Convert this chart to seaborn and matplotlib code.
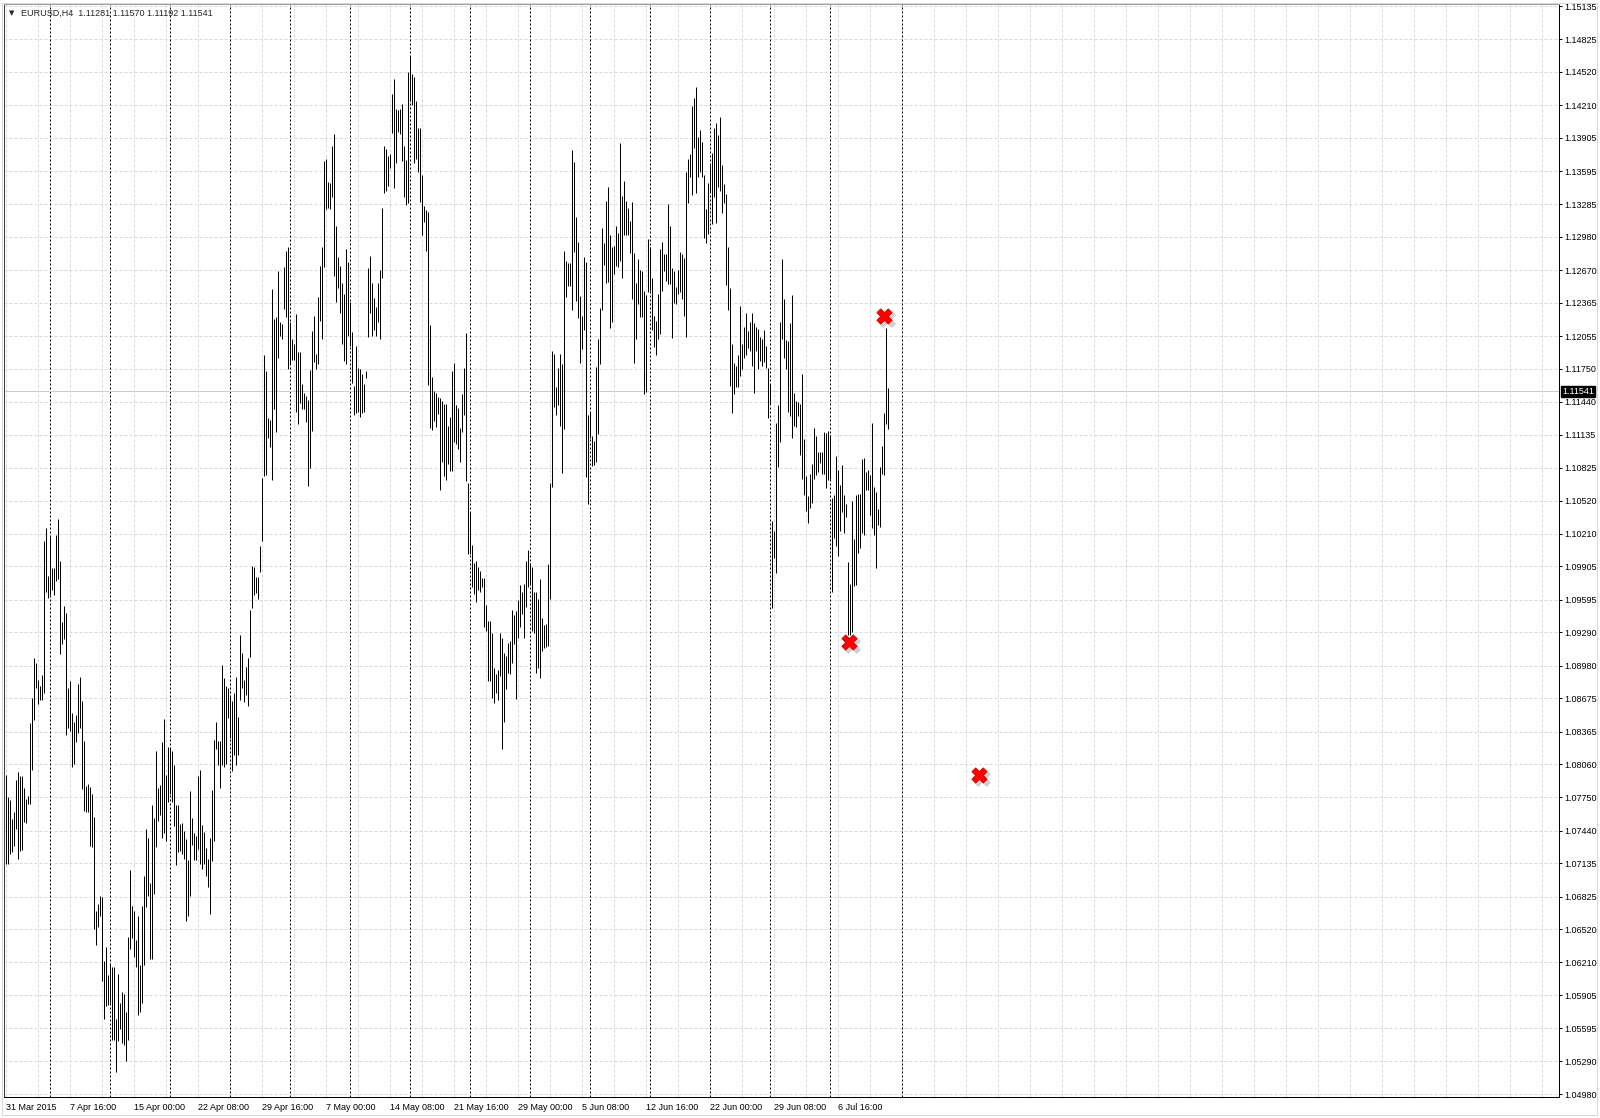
import numpy as np
import matplotlib
matplotlib.use("Agg")
import matplotlib.pyplot as plt
import matplotlib.transforms as mtransforms
from matplotlib.patches import Rectangle
import seaborn as sns


# ─────────────────────────────────────────────
# DATA  (EURUSD H4)
# ─────────────────────────────────────────────

symbol = "EURUSD,H4"
last_ohlc = [1.11281, 1.11570, 1.11192, 1.11541]
last_price = 1.11541

# bar highs / lows, one per H4 bar from 31 Mar 2015 00:00
highs = [
    1.0796, 1.0775, 1.0773, 1.0755, 1.0761, 1.0791, 1.0799, 1.0795, 1.0795, 1.0784,
    1.0774, 1.0776, 1.0844, 1.0868, 1.0905, 1.0900, 1.0885, 1.0879, 1.0889, 1.1014,
    1.1026, 1.0982, 1.1018, 1.0989, 1.0989, 1.1020, 1.1035, 1.0996, 1.0939, 1.0954,
    1.0947, 1.0877, 1.0884, 1.0854, 1.0845, 1.0852, 1.0881, 1.0887, 1.0865, 1.0828,
    1.0786, 1.0788, 1.0785, 1.0778, 1.0757, 1.0669, 1.0676, 1.0683, 1.0682, 1.0622,
    1.0635, 1.0609, 1.0620, 1.0617, 1.0617, 1.0568, 1.0610, 1.0583, 1.0593, 1.0592,
    1.0575, 1.0645, 1.0707, 1.0674, 1.0669, 1.0642, 1.0664, 1.0619, 1.0674, 1.0702,
    1.0746, 1.0737, 1.0695, 1.0768, 1.0756, 1.0818, 1.0784, 1.0787, 1.0827, 1.0848,
    1.0796, 1.0822, 1.0822, 1.0818, 1.0805, 1.0768, 1.0768, 1.0750, 1.0751, 1.0744,
    1.0736, 1.0717, 1.0781, 1.0756, 1.0742, 1.0739, 1.0795, 1.0801, 1.0749, 1.0743,
    1.0728, 1.0718, 1.0737, 1.0782, 1.0829, 1.0845, 1.0828, 1.0828, 1.0899, 1.0886,
    1.0879, 1.0877, 1.0869, 1.0865, 1.0872, 1.0887, 1.0850, 1.0927, 1.0910, 1.0885,
    1.0897, 1.0905, 1.0950, 1.0991, 1.0990, 1.0981, 1.0981, 1.1010, 1.1073, 1.1188,
    1.1173, 1.1129, 1.1127, 1.1249, 1.1221, 1.1223, 1.1266, 1.1219, 1.1217, 1.1270,
    1.1285, 1.1289, 1.1219, 1.1203, 1.1198, 1.1226, 1.1191, 1.1191, 1.1161, 1.1152,
    1.1150, 1.1146, 1.1174, 1.1210, 1.1224, 1.1189, 1.1242, 1.1271, 1.1289, 1.1369,
    1.1371, 1.1349, 1.1348, 1.1383, 1.1394, 1.1308, 1.1279, 1.1271, 1.1255, 1.1245,
    1.1287, 1.1275, 1.1237, 1.1209, 1.1159, 1.1196, 1.1176, 1.1175, 1.1170, 1.1161,
    1.1173, 1.1269, 1.1280, 1.1255, 1.1241, 1.1233, 1.1255, 1.1267, 1.1325, 1.1383,
    1.1380, 1.1374, 1.1375, 1.1431, 1.1445, 1.1417, 1.1416, 1.1417, 1.1422, 1.1383,
    1.1370, 1.1452, 1.1467, 1.1450, 1.1447, 1.1425, 1.1400, 1.1400, 1.1356, 1.1327,
    1.1323, 1.1321, 1.1216, 1.1167, 1.1154, 1.1152, 1.1149, 1.1148, 1.1145, 1.1142,
    1.1142, 1.1122, 1.1130, 1.1173, 1.1180, 1.1141, 1.1138, 1.1120, 1.1151, 1.1176,
    1.1208, 1.1068, 1.1041, 1.1011, 1.0994, 1.0996, 1.0990, 1.0986, 1.0980, 1.0980,
    1.0955, 1.0940, 1.0940, 1.0928, 1.0896, 1.0890, 1.0894, 1.0928, 1.0924, 1.0910,
    1.0907, 1.0919, 1.0921, 1.0950, 1.0945, 1.0949, 1.0959, 1.0973, 1.0967, 1.0974,
    1.0996, 1.1006, 1.0994, 1.0990, 1.0967, 1.0967, 1.0960, 1.0979, 1.0942, 1.0936,
    1.0937, 1.0993, 1.1068, 1.1192, 1.1189, 1.1158, 1.1176, 1.1189, 1.1179, 1.1285,
    1.1276, 1.1274, 1.1274, 1.1379, 1.1368, 1.1317, 1.1293, 1.1243, 1.1224, 1.1279,
    1.1275, 1.1132, 1.1135, 1.1112, 1.1108, 1.1177, 1.1203, 1.1232, 1.1306, 1.1292,
    1.1332, 1.1345, 1.1300, 1.1289, 1.1290, 1.1308, 1.1302, 1.1386, 1.1336, 1.1350,
    1.1332, 1.1325, 1.1313, 1.1331, 1.1283, 1.1255, 1.1277, 1.1267, 1.1266, 1.1248,
    1.1244, 1.1296, 1.1289, 1.1260, 1.1224, 1.1220, 1.1245, 1.1287, 1.1293, 1.1282,
    1.1282, 1.1329, 1.1308, 1.1269, 1.1266, 1.1251, 1.1267, 1.1284, 1.1282, 1.1278,
    1.1359, 1.1371, 1.1375, 1.1420, 1.1428, 1.1438, 1.1391, 1.1398, 1.1387, 1.1356,
    1.1324, 1.1348, 1.1365, 1.1376, 1.1400, 1.1404, 1.1393, 1.1410, 1.1365, 1.1347,
    1.1338, 1.1289, 1.1250, 1.1198, 1.1180, 1.1178, 1.1188, 1.1234, 1.1198, 1.1214,
    1.1227, 1.1210, 1.1219, 1.1227, 1.1218, 1.1214, 1.1212, 1.1205, 1.1203, 1.1211,
    1.1196, 1.1176, 1.1161, 1.1033, 1.1024, 1.1124, 1.1141, 1.1219, 1.1277, 1.1240,
    1.1202, 1.1201, 1.1218, 1.1244, 1.1152, 1.1145, 1.1144, 1.1142, 1.1170, 1.1109,
    1.1075, 1.1056, 1.1077, 1.1086, 1.1120, 1.1112, 1.1097, 1.1097, 1.1097, 1.1116,
    1.1115, 1.1117, 1.1113, 1.1054, 1.1057, 1.1094, 1.1081, 1.1067, 1.1085, 1.1057,
    1.1049, 1.0995, 1.0974, 1.1052, 1.1016, 1.1057, 1.1058, 1.1058, 1.1091, 1.1092,
    1.1079, 1.1081, 1.1076, 1.1124, 1.1065, 1.1060, 1.1044, 1.1083, 1.1103, 1.1134,
    1.1213, 1.1157,
]

lows = [
    1.0713, 1.0713, 1.0722, 1.0724, 1.0730, 1.0746, 1.0718, 1.0725, 1.0726, 1.0752,
    1.0751, 1.0769, 1.0769, 1.0801, 1.0847, 1.0877, 1.0862, 1.0866, 1.0866, 1.0872,
    1.0967, 1.0961, 1.0964, 1.0969, 1.0964, 1.0977, 1.0979, 1.0909, 1.0918, 1.0923,
    1.0833, 1.0840, 1.0837, 1.0803, 1.0806, 1.0827, 1.0835, 1.0840, 1.0783, 1.0762,
    1.0761, 1.0761, 1.0730, 1.0729, 1.0652, 1.0637, 1.0654, 1.0664, 1.0604, 1.0568,
    1.0580, 1.0581, 1.0583, 1.0549, 1.0549, 1.0519, 1.0548, 1.0559, 1.0546, 1.0544,
    1.0529, 1.0549, 1.0634, 1.0644, 1.0626, 1.0617, 1.0572, 1.0575, 1.0583, 1.0619,
    1.0673, 1.0683, 1.0624, 1.0624, 1.0685, 1.0729, 1.0753, 1.0759, 1.0737, 1.0742,
    1.0734, 1.0771, 1.0778, 1.0771, 1.0748, 1.0712, 1.0724, 1.0725, 1.0722, 1.0718,
    1.0660, 1.0664, 1.0683, 1.0731, 1.0717, 1.0717, 1.0727, 1.0713, 1.0708, 1.0713,
    1.0702, 1.0691, 1.0666, 1.0716, 1.0734, 1.0820, 1.0805, 1.0784, 1.0805, 1.0803,
    1.0806, 1.0849, 1.0830, 1.0800, 1.0815, 1.0805, 1.0815, 1.0866, 1.0877, 1.0864,
    1.0871, 1.0860, 1.0906, 1.0952, 1.0964, 1.0966, 1.0960, 1.0985, 1.1014, 1.1075,
    1.1076, 1.1110, 1.1102, 1.1071, 1.1137, 1.1116, 1.1185, 1.1206, 1.1203, 1.1231,
    1.1223, 1.1175, 1.1179, 1.1183, 1.1183, 1.1135, 1.1123, 1.1143, 1.1137, 1.1137,
    1.1125, 1.1066, 1.1082, 1.1117, 1.1181, 1.1175, 1.1179, 1.1220, 1.1203, 1.1270,
    1.1324, 1.1325, 1.1324, 1.1335, 1.1262, 1.1237, 1.1250, 1.1227, 1.1198, 1.1182,
    1.1179, 1.1206, 1.1196, 1.1162, 1.1132, 1.1134, 1.1135, 1.1130, 1.1134, 1.1135,
    1.1166, 1.1205, 1.1227, 1.1206, 1.1211, 1.1206, 1.1219, 1.1203, 1.1260, 1.1339,
    1.1341, 1.1346, 1.1362, 1.1395, 1.1344, 1.1367, 1.1396, 1.1394, 1.1369, 1.1335,
    1.1328, 1.1330, 1.1425, 1.1421, 1.1367, 1.1371, 1.1359, 1.1331, 1.1300, 1.1312,
    1.1285, 1.1160, 1.1120, 1.1118, 1.1126, 1.1121, 1.1133, 1.1062, 1.1088, 1.1075,
    1.1071, 1.1086, 1.1080, 1.1080, 1.1107, 1.1105, 1.1100, 1.1088, 1.1116, 1.1132,
    1.1070, 1.1002, 1.1002, 1.0971, 1.0965, 1.0957, 1.0969, 1.0967, 1.0971, 1.0934,
    1.0930, 1.0884, 1.0884, 1.0868, 1.0863, 1.0872, 1.0866, 1.0888, 1.0820, 1.0845,
    1.0876, 1.0891, 1.0890, 1.0900, 1.0918, 1.0867, 1.0924, 1.0934, 1.0946, 1.0924,
    1.0953, 1.0971, 1.0973, 1.0930, 1.0928, 1.0891, 1.0896, 1.0886, 1.0912, 1.0914,
    1.0915, 1.0916, 1.0960, 1.1065, 1.1139, 1.1132, 1.1141, 1.1122, 1.1078, 1.1119,
    1.1242, 1.1252, 1.1252, 1.1230, 1.1284, 1.1238, 1.1222, 1.1180, 1.1193, 1.1211,
    1.1074, 1.1049, 1.1110, 1.1084, 1.1085, 1.1088, 1.1114, 1.1179, 1.1230, 1.1272,
    1.1255, 1.1256, 1.1213, 1.1219, 1.1263, 1.1271, 1.1270, 1.1276, 1.1260, 1.1300,
    1.1300, 1.1300, 1.1283, 1.1240, 1.1180, 1.1203, 1.1235, 1.1223, 1.1223, 1.1151,
    1.1153, 1.1247, 1.1248, 1.1211, 1.1195, 1.1188, 1.1203, 1.1207, 1.1248, 1.1266,
    1.1257, 1.1254, 1.1254, 1.1204, 1.1236, 1.1235, 1.1245, 1.1247, 1.1240, 1.1224,
    1.1205, 1.1330, 1.1354, 1.1337, 1.1381, 1.1339, 1.1354, 1.1359, 1.1354, 1.1297,
    1.1292, 1.1301, 1.1341, 1.1310, 1.1335, 1.1311, 1.1345, 1.1341, 1.1320, 1.1330,
    1.1253, 1.1230, 1.1159, 1.1134, 1.1151, 1.1158, 1.1158, 1.1168, 1.1175, 1.1185,
    1.1188, 1.1194, 1.1192, 1.1178, 1.1152, 1.1192, 1.1175, 1.1182, 1.1178, 1.1181,
    1.1176, 1.1129, 1.1142, 1.0952, 1.0998, 1.0984, 1.1083, 1.1107, 1.1203, 1.1185,
    1.1175, 1.1135, 1.1131, 1.1110, 1.1122, 1.1121, 1.1131, 1.1095, 1.1072, 1.1057,
    1.1042, 1.1031, 1.1045, 1.1050, 1.1072, 1.1076, 1.1079, 1.1087, 1.1077, 1.1077,
    1.1064, 1.1071, 1.1072, 1.0967, 1.1017, 1.1010, 1.1000, 1.1024, 1.1041, 1.1022,
    1.1037, 1.0927, 1.0927, 1.0929, 1.0972, 1.0973, 1.1003, 1.1008, 1.1022, 1.1020,
    1.1062, 1.1062, 1.1039, 1.1026, 1.1020, 1.0989, 1.1029, 1.1027, 1.1077, 1.1076,
    1.1123, 1.1119,
]

# price scale labels on the right
price_labels = [
    1.15135, 1.14825, 1.14520, 1.14210, 1.13905, 1.13595, 1.13285, 1.12980,
    1.12670, 1.12365, 1.12055, 1.11750, 1.11440, 1.11135, 1.10825, 1.10520,
    1.10210, 1.09905, 1.09595, 1.09290, 1.08980, 1.08675, 1.08365, 1.08060,
    1.07750, 1.07440, 1.07135, 1.06825, 1.06520, 1.06210, 1.05905, 1.05595,
    1.05290, 1.04980,
]

# time scale labels (bar index where each label sits)
date_labels = [
    "31 Mar 2015", "7 Apr 16:00", "15 Apr 00:00", "22 Apr 08:00", "29 Apr 16:00",
    "7 May 00:00", "14 May 08:00", "21 May 16:00", "29 May 00:00", "5 Jun 08:00",
    "12 Jun 16:00", "22 Jun 00:00", "29 Jun 08:00", "6 Jul 16:00",
]
date_label_bars = [0, 32, 64, 96, 128, 160, 192, 224, 256, 288, 320, 352, 384, 416]

# weekly period separators (bar index of Monday 00:00)
week_starts = [22, 52, 82, 112, 142, 172, 202, 232, 262, 292, 322, 352, 382, 412, 448]

# red cross arrow objects on the chart
marker_bars = [439, 421.5, 486.5]
marker_prices = [1.1224, 1.0920, 1.0796]


# ─────────────────────────────────────────────
# LAYOUT -- everything in screen pixels of a 1600x1118 window
# ─────────────────────────────────────────────
W, H = 1600, 1118
PLOT_L, PLOT_R = 4, 1559        # x pixels of plot area
PLOT_T, PLOT_B = 4, 1097        # y pixels (from top)
BAR_PX = 2                      # MT4 zoom level: 2 px per bar
PX_PER_PRICE = 1088.3 / (1.15135 - 1.04980)

GRID_COL = "#d9d9d9"
PX = 0.72  # one pixel in points at dpi 100

sns.set_style("white")
plt.rcParams["font.family"] = ["Liberation Sans", "DejaVu Sans"]
plt.rcParams["font.size"] = 6.5

fig = plt.figure(figsize=(W / 100, H / 100), dpi=100)
fig.patch.set_facecolor("white")
ax = fig.add_axes([PLOT_L / W, (H - PLOT_B) / H,
                   (PLOT_R - PLOT_L) / W, (PLOT_B - PLOT_T) / H])

# bar i is centred 1.5 px right of the plot edge, every 2 px
x_left = -0.75
x_right = x_left + (PLOT_R - PLOT_L) / BAR_PX
ax.set_xlim(x_left, x_right)
y_top = 1.15135 + (6 - PLOT_T) / PX_PER_PRICE
y_bot = 1.15135 - (PLOT_B - 6) / PX_PER_PRICE
ax.set_ylim(y_bot, y_top)

# light dashed grid
for v in price_labels:
    ax.axhline(v, color=GRID_COL, lw=PX, dashes=(3, 2), zorder=0)
for b in np.arange(0, x_right, 16):
    ax.axvline(b, color=GRID_COL, lw=PX, dashes=(3, 2), zorder=0)

# weekly separators
for w in week_starts:
    ax.axvline(w, color="black", lw=PX, dashes=(2, 2), zorder=1)

# bid line
ax.axhline(last_price, color="#cccccc", lw=PX, zorder=1)

# the price bars (high-low)
bar_idx = np.arange(len(highs))
ax.vlines(bar_idx, lows, highs, colors="black", linewidth=PX, zorder=3)

# red cross objects, with their soft grey drop shadow
shadow = ax.transData + mtransforms.ScaledTranslation(3 / 100, -3 / 100, fig.dpi_scale_trans)
ax.scatter(marker_bars, marker_prices, marker="X", s=150, color="#777777",
           alpha=0.35, linewidths=0, transform=shadow, zorder=4)
sns.scatterplot(x=marker_bars, y=marker_prices, marker="X", s=120, color="#ff0000",
                edgecolor="#d00000", linewidth=0.6, ax=ax, zorder=5, legend=False)

# axes / frame
for side in ["top", "left", "right", "bottom"]:
    ax.spines[side].set_linewidth(PX)
ax.spines["top"].set_color("#a0a0a0")
ax.spines["left"].set_color("#404040")
ax.spines["right"].set_color("black")
ax.spines["bottom"].set_color("black")

ax.yaxis.tick_right()
ax.set_yticks(price_labels)
ax.set_yticklabels([f"{v:.5f}" for v in price_labels])
ax.tick_params(axis="y", direction="out", length=2.2, width=PX, pad=1.5,
               labelsize=6.5, colors="black")

ax.set_xticks(date_label_bars)
ax.set_xticklabels(date_labels)
ax.tick_params(axis="x", direction="out", length=2.2, width=PX, pad=2,
               labelsize=6.5, colors="black")
plt.setp(ax.get_xticklabels(), ha="left")
ax.set_xlabel("")
ax.set_ylabel("")

# current price tag on the scale
tag_trans = mtransforms.blended_transform_factory(ax.transAxes, ax.transData)
ax.text(1.0 + 3 / (PLOT_R - PLOT_L), last_price, f"{last_price:.5f}", transform=tag_trans,
        ha="left", va="center", fontsize=6.5, color="white", zorder=6, clip_on=False,
        bbox=dict(boxstyle="square,pad=0.12", fc="black", ec="black"))

# chart header
fig.text(9 / W, 1 - 13 / H, "▼", fontsize=5, ha="left", va="center",
         family=["DejaVu Sans"])
fig.text(21 / W, 1 - 13 / H,
         f"{symbol}  " + " ".join(f"{v:.5f}" for v in last_ohlc),
         fontsize=6.5, ha="left", va="center")

# thin window border
fig.patches.append(Rectangle((2 / W, 3 / H), 1595 / W, 1112 / H, transform=fig.transFigure,
                             fill=False, ec="#d8d8d8", lw=PX))

fig.savefig("out.png", dpi=100, facecolor="white")
plt.close(fig)
